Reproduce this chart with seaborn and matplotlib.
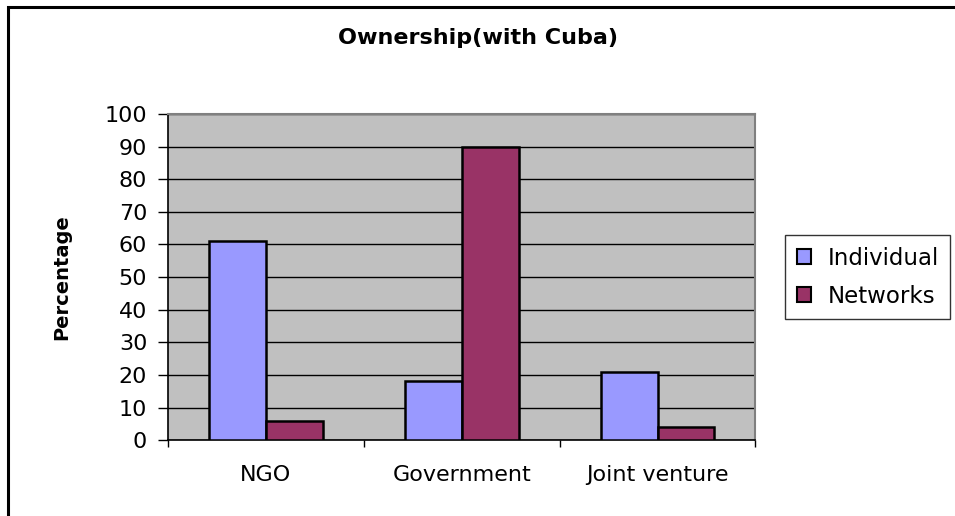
import numpy as np
import pandas as pd
import seaborn as sns
import matplotlib.pyplot as plt
from matplotlib.patches import Rectangle

categories = ["NGO", "Government", "Joint venture"]
individual = [61, 18, 21]
networks = [6, 90, 4]
series_names = ["Individual", "Networks"]
y_ticks = list(range(0, 101, 10))

df = pd.DataFrame({
    "category": categories * 2,
    "series": [series_names[0]] * 3 + [series_names[1]] * 3,
    "value": individual + networks,
})

sns.set_theme(style="white")
plt.rcParams["font.family"] = ["DejaVu Sans"]
plt.rcParams["text.color"] = "black"
plt.rcParams["axes.labelcolor"] = "black"

fig = plt.figure(figsize=(9.55, 5.16), dpi=100)
ax = fig.add_axes([0.176, 0.147, 0.615, 0.632])
ax.set_facecolor("#C0C0C0")

sns.barplot(data=df, x="category", y="value", hue="series", order=categories,
            hue_order=series_names, palette=["#9999FF", "#993366"],
            width=0.58, gap=0, edgecolor="black", linewidth=1.8,
            saturation=1, ax=ax, zorder=3)

ax.set_ylim(0, 100)
ax.set_xlim(-0.5, 2.5)
ax.set_yticks(y_ticks)
ax.yaxis.grid(True, color="black", linewidth=1)
ax.set_axisbelow(True)
ax.tick_params(axis="y", labelsize=16, length=7, width=1, color="black",
               labelcolor="black", left=True, pad=8)
ax.tick_params(axis="x", which="major", labelsize=16, length=0, pad=18,
               labelcolor="black")
ax.set_xticks([-0.5, 0.5, 1.5, 2.5], minor=True)
ax.tick_params(axis="x", which="minor", length=5, width=1, color="black", bottom=True)

ax.set_xlabel("")
ax.set_ylabel("Percentage", fontsize=14, fontweight="bold", color="black")
ax.yaxis.set_label_coords(-0.165, 0.5)

for side in ["left", "bottom"]:
    ax.spines[side].set_color("black")
    ax.spines[side].set_linewidth(1.2)
for side in ["top", "right"]:
    ax.spines[side].set_color("#808080")
    ax.spines[side].set_linewidth(1.5)

leg = ax.legend(loc="center left", bbox_to_anchor=(1.051, 0.5), borderaxespad=0,
                fontsize=16.5, frameon=True, fancybox=False, edgecolor="black",
                handlelength=0.6, handleheight=0.6, handletextpad=0.75,
                borderpad=0.5, labelspacing=0.65)
leg.get_frame().set_linewidth(1)
for h in leg.legend_handles:
    h.set_edgecolor("black")
    h.set_linewidth(1.5)
for t in leg.get_texts():
    t.set_color("black")

fig.text(0.5, 0.927, "Ownership(with Cuba)", ha="center", va="center",
         fontsize=16, fontweight="bold", color="black")

fig.patches.append(Rectangle((0.0085, -0.1), 1.2, 1.0855, transform=fig.transFigure,
                             fill=False, edgecolor="black", linewidth=2.2))

fig.savefig("out.png", dpi=100)
